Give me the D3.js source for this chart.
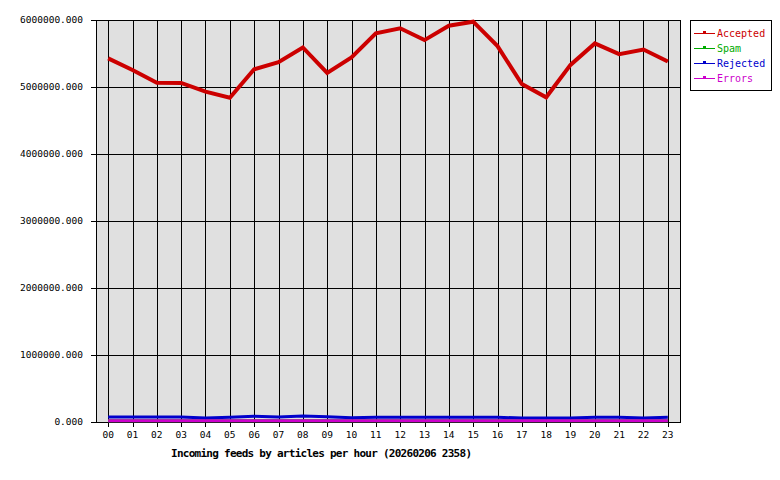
<!DOCTYPE html>
<html><head><meta charset="utf-8">
<script src="https://cdn.jsdelivr.net/npm/d3@7"></script>
<style>body{margin:0;background:#fff}svg{display:block}</style>
</head><body>
<script>
const hours = ["00","01","02","03","04","05","06","07","08","09","10","11","12","13","14","15","16","17","18","19","20","21","22","23"];
const accepted = [5428000,5254000,5064000,5060000,4930000,4840000,5264000,5370000,5590000,5210000,5440000,5800000,5876000,5700000,5915000,5975000,5610000,5045000,4846000,5330000,5650000,5490000,5560000,5380000];
const spam = [20000,20000,20000,20000,20000,20000,20000,20000,20000,20000,20000,20000,20000,20000,20000,20000,20000,20000,20000,20000,20000,20000,20000,20000];
const rejected = [75000,75000,75000,75000,60000,70000,85000,75000,90000,78000,65000,72000,72000,72000,72000,72000,72000,58000,58000,58000,72000,72000,60000,72000];
const errors = [20000,20000,20000,20000,20000,20000,20000,20000,20000,20000,20000,20000,20000,20000,20000,20000,20000,20000,20000,20000,20000,20000,20000,20000];
const yTicks = [0,1000000,2000000,3000000,4000000,5000000,6000000];
const seriesNames = ["Accepted","Spam","Rejected","Errors"];
const seriesColors = ["#cc0000","#00aa00","#0000cc","#cc00cc"];
const title = "Incoming feeds by articles per hour (20260206 2358)";

const W=780,H=480, L=96, R=680, T=20, B=422;
const svg = d3.select("body").append("svg").attr("width",W).attr("height",H);
const x = d3.scaleBand().domain(hours).range([L,R]);
const y = d3.scaleLinear().domain([0,6000000]).range([B,T]);
const cx = h => x(h)+x.bandwidth()/2;
const font = "'DejaVu Sans Mono', monospace";

svg.append("rect").attr("x",L).attr("y",T).attr("width",R-L).attr("height",B-T).attr("fill","#e0e0e0");

// grid
const g = svg.append("g").attr("shape-rendering","crispEdges").attr("stroke","#000").attr("stroke-width",1);
g.selectAll("line.v").data(hours).join("line").attr("class","v").attr("x1",d=>Math.round(cx(d))+0.5).attr("x2",d=>Math.round(cx(d))+0.5).attr("y1",T).attr("y2",B+5);
g.selectAll("line.h").data(yTicks).join("line").attr("class","h").attr("x1",L-5).attr("x2",R).attr("y1",d=>Math.round(y(d))+0.5).attr("y2",d=>Math.round(y(d))+0.5);
g.append("rect").attr("x",L+0.5).attr("y",T+0.5).attr("width",R-L).attr("height",B-T).attr("fill","none");

// y labels
svg.append("g").selectAll("text").data(yTicks).join("text")
  .attr("x",83).attr("y",d=>y(d)).attr("dy","0.35em").attr("text-anchor","end")
  .attr("font-family",font).attr("font-size","9.5px").attr("fill","#000")
  .text(d=>d3.format(".3f")(d));
// x labels
svg.append("g").selectAll("text").data(hours).join("text")
  .attr("x",d=>cx(d)).attr("y",438).attr("text-anchor","middle")
  .attr("font-family",font).attr("font-size","9.5px").attr("fill","#000").text(d=>d);
// title
svg.append("text").attr("x",171).attr("y",457).attr("textLength",301).attr("lengthAdjust","spacing")
  .attr("font-family",font).attr("font-weight","bold").attr("font-size","11px").attr("fill","#000").text(title);

const data = [accepted,spam,rejected,errors];
const widths = [4,3,3,3];
const line = d3.line().x((d,i)=>cx(hours[i])).y(d=>y(d));
data.forEach((s,k)=>{
  svg.append("path").datum(s).attr("d",line).attr("fill","none")
    .attr("stroke",seriesColors[k]).attr("stroke-width",widths[k]).attr("stroke-linejoin","miter");
});

// legend
const lg = svg.append("g");
lg.append("rect").attr("x",690.5).attr("y",20.5).attr("width",81).attr("height",70).attr("fill","#fff").attr("stroke","#000").attr("shape-rendering","crispEdges");
seriesNames.forEach((n,i)=>{
  const yy = 33+i*15;
  lg.append("rect").attr("x",694).attr("y",yy).attr("width",21).attr("height",1).attr("fill",seriesColors[i]);
  lg.append("rect").attr("x",703).attr("y",yy-2).attr("width",3).attr("height",2).attr("fill",seriesColors[i]);
  lg.append("text").attr("x",717).attr("y",yy).attr("dy","0.35em").attr("font-family",font).attr("font-size","10px").attr("fill",seriesColors[i]).text(n);
});
</script>
</body></html>
